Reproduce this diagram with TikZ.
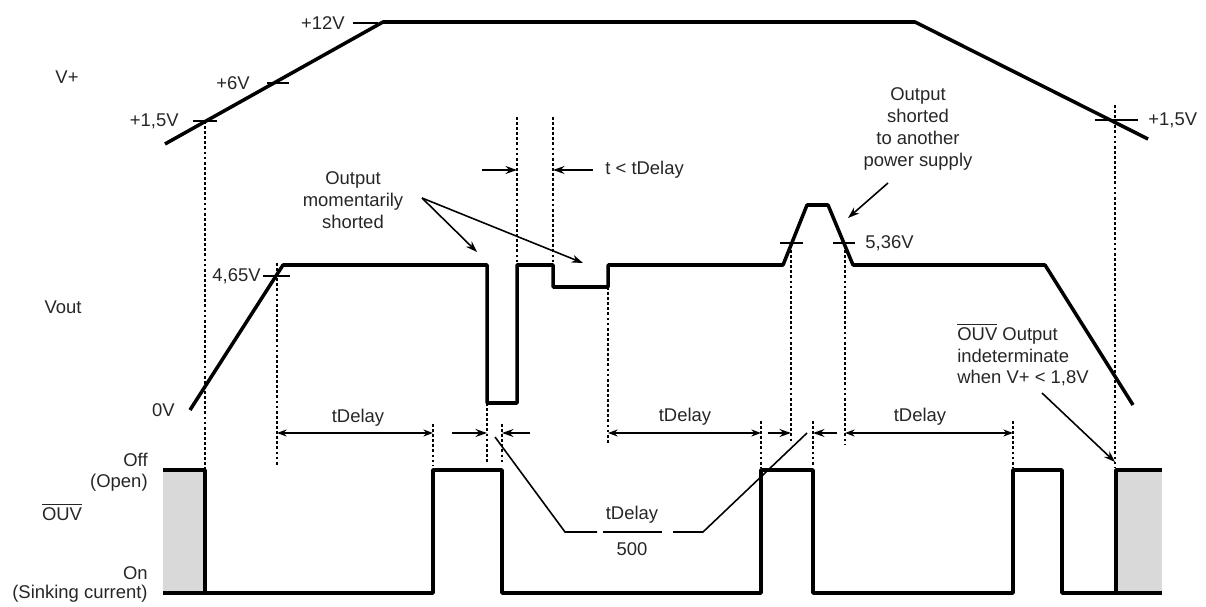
\documentclass[tikz,border=0pt]{standalone}
\usepackage{fontspec}
\setmainfont{Liberation Sans}
\usetikzlibrary{arrows.meta}
\tikzstyle{wave} = [line width=2pt, line join=round]
\tikzstyle{guide} = [line width=0.9pt, dash pattern=on 1.6pt off 1.3pt]
\tikzstyle{tick} = [line width=0.9pt]
\tikzstyle{arrow} = [line width=0.9pt,-{Stealth[length=6.5pt,width=4.5pt]}]
\tikzstyle{dim} = [line width=0.8pt,{Stealth[length=5.5pt,width=4pt]}-{Stealth[length=5.5pt,width=4pt]}]
\tikzstyle{lbl} = [inner sep=0pt, text=black!85, font=\fontsize{10.5}{12.5}\selectfont]
\tikzstyle{shade} = [fill=gray!30]

\begin{document}
\begin{tikzpicture}[x=0.02cm, y=-0.02cm]
\useasboundingbox (0,0) rectangle (1206,607);

% row labels
\node (vplus) [lbl] at (67,77) {V+};
\node (vout) [lbl] at (63,307) {Vout};
\node (ouv) [lbl] at (62,512) {$\overline{\mbox{OUV}}$};
\node (off) [lbl, anchor=east] at (148,460) {Off};
\node (open) [lbl, anchor=east] at (148,483) {(Open)};
\node (on) [lbl, anchor=east] at (148,573) {On};
\node (sink) [lbl, anchor=east] at (148,594) {(Sinking current)};

% V+
\draw [wave] (165,144) -- (383,22) -- (915,22) -- (1148,139);
\node (v12) [lbl, anchor=east] at (345,23) {+12V};
\node (v6) [lbl, anchor=east] at (250,83) {+6V};
\node (v15a) [lbl, anchor=east] at (179,121) {+1,5V};
\node (v15b) [lbl, anchor=west] at (1148,120) {+1,5V};
\draw [tick] (353,23) -- (378,23);
\draw [tick] (267,83) -- (289,83);
\draw [tick] (193,121) -- (217,121);
\draw [tick] (1095,120) -- (1138,120);

% Vout
\draw [wave] (190,410) -- (283,265) -- (487,265) -- (487,403) -- (517,403) -- (517,265)
  -- (553,265) -- (553,287) -- (608,287) -- (608,265) -- (783,265) -- (807,205)
  -- (828,205) -- (853,265) -- (1045,265) -- (1133,405);
\node (v465) [lbl, anchor=east] at (261,276) {4,65V};
\node (v0) [lbl, anchor=east] at (175,410) {0V};
\node (v536) [lbl, anchor=west] at (865,243) {5,36V};
\draw [tick] (263,276) -- (290,276);
\draw [tick] (780,243) -- (803,243);
\draw [tick] (833,243) -- (855,243);

% OUV
\fill [shade] (163,470) rectangle (205,593);
\fill [shade] (1116,470) rectangle (1162,593);
\draw [wave] (163,470) -- (205,470) -- (205,593) -- (433,593) -- (433,470) -- (502,470)
  -- (502,593) -- (761,593) -- (761,470) -- (813,470) -- (813,593) -- (1013,593)
  -- (1013,470) -- (1062,470) -- (1062,593) -- (1162,593);
\draw [wave] (163,593) -- (205,593);
\draw [wave] (1116,593) -- (1116,470) -- (1162,470);

% guide lines
\draw [guide] (205,121) -- (205,470);
\draw [guide] (277,263) -- (277,465);
\draw [guide] (433,424) -- (433,466);
\draw [guide] (487,403) -- (487,462);
\draw [guide] (502,424) -- (502,462);
\draw [guide] (517,117) -- (517,262);
\draw [guide] (553,117) -- (553,262);
\draw [guide] (608,287) -- (608,444);
\draw [guide] (761,421) -- (761,468);
\draw [guide] (791,250) -- (791,441);
\draw [guide] (813,421) -- (813,466);
\draw [guide] (845,250) -- (845,444);
\draw [guide] (1013,421) -- (1013,468);
\draw [guide] (1115,105) -- (1115,468);

% t < tDelay
\draw [arrow] (482,170) -- (517,170);
\draw [arrow] (593,170) -- (553,170);
\node (tless) [lbl, anchor=west] at (605,170) {t < tDelay};

% tDelay dimensions
\draw [dim] (277,433) -- (433,433);
\node (td1) [lbl] at (358,418) {tDelay};
\draw [dim] (608,433) -- (761,433);
\node (td2) [lbl] at (685,417) {tDelay};
\draw [dim] (845,433) -- (1013,433);
\node (td3) [lbl] at (920,417) {tDelay};
\draw [arrow] (452,433) -- (487,433);
\draw [arrow] (530,433) -- (502,433);
\draw [arrow] (768,433) -- (791,433);
\draw [arrow] (837,433) -- (813,433);

% tDelay/500
\node (frtop) [lbl] at (632,515) {tDelay};
\node (frbot) [lbl] at (632,549) {500};
\draw [tick] (603,532) -- (662,532);
\draw [tick] (495,437) -- (565,532) -- (597,532);
\draw [tick] (673,532) -- (703,532) -- (807,433);

% notes
\node (mshort) [lbl, align=center] at (353,200) {Output\\momentarily\\shorted};
\coordinate (msrc) at (422,198);
\coordinate (mtip1) at (477,252);
\coordinate (mtip2) at (583,263);
\draw [arrow] (msrc) -- (mtip1);
\draw [arrow] (msrc) -- (mtip2);

\node (pshort) [lbl, align=center] at (918,129) {Output\\shorted\\to another\\power supply};
\coordinate (psrc) at (888,183);
\coordinate (ptip) at (848,218);
\draw [arrow] (psrc) -- (ptip);

\node (indet) [lbl, align=left, anchor=west] at (957,355) {$\overline{\mbox{OUV}}$ Output\\indeterminate\\when V+ < 1,8V};
\coordinate (isrc) at (1042,393);
\coordinate (itip) at (1115,462);
\draw [arrow] (isrc) -- (itip);
\end{tikzpicture}
\end{document}
